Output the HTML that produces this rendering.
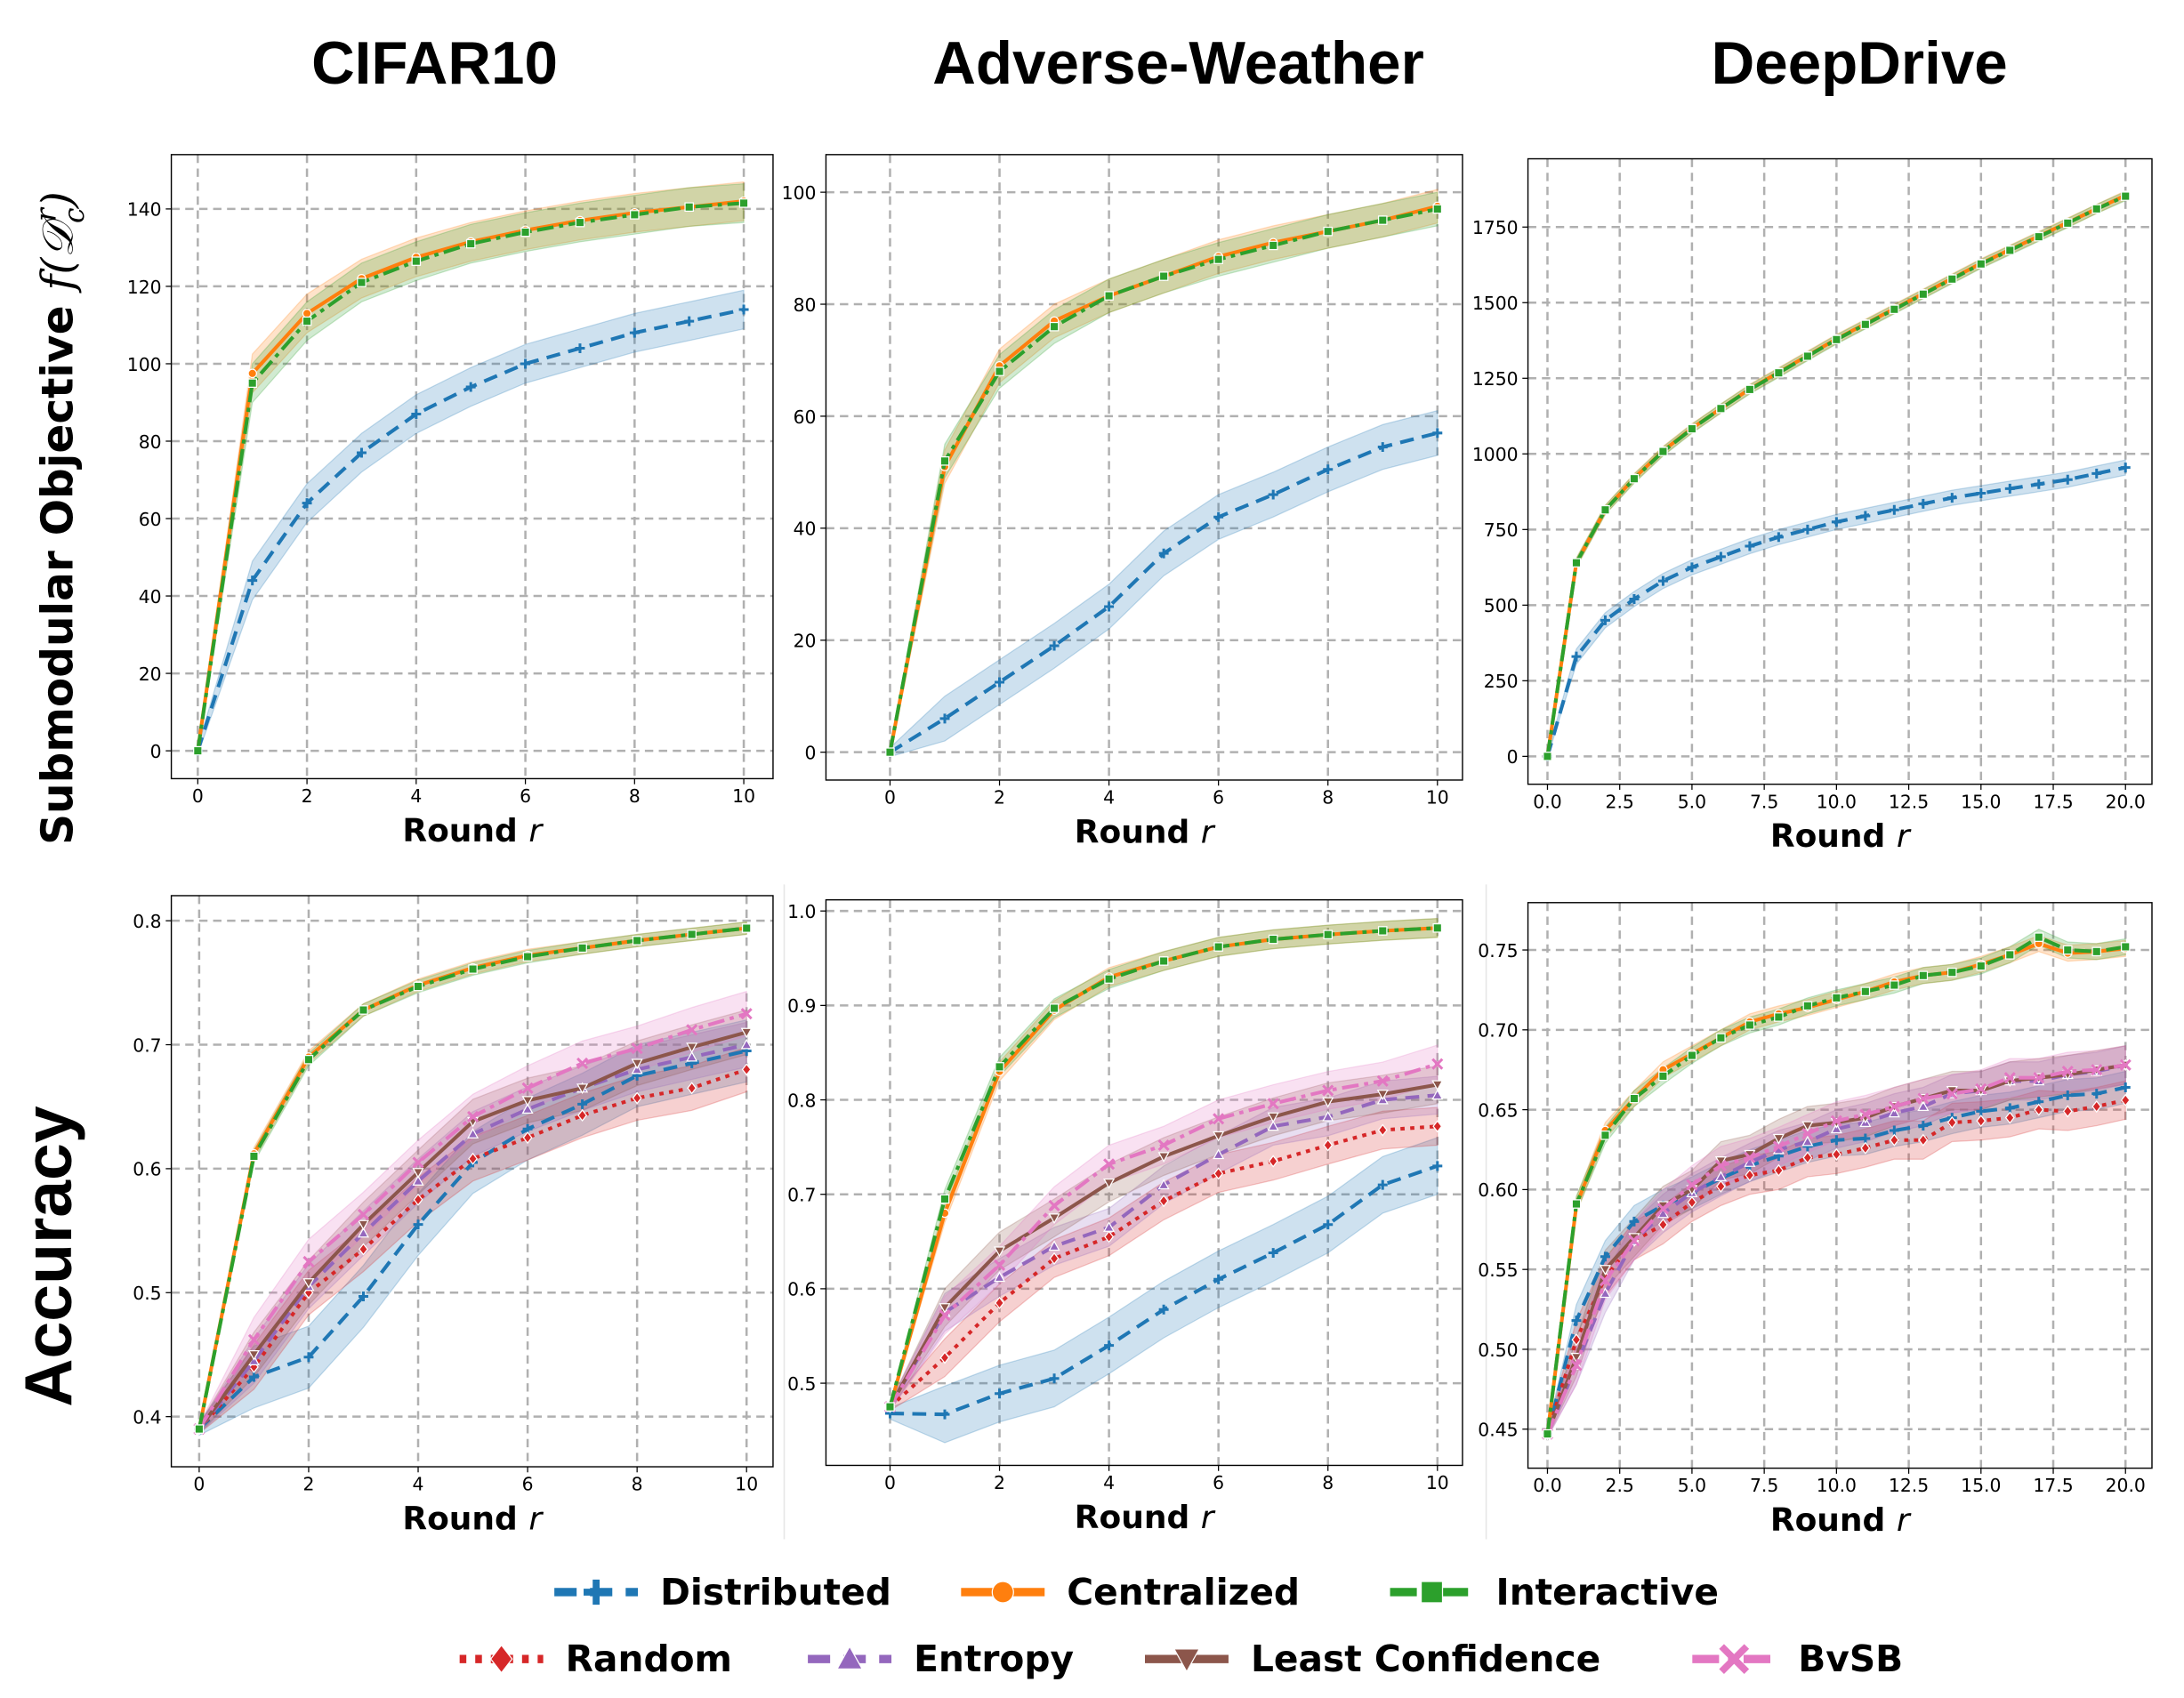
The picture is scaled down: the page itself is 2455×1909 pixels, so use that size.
<!DOCTYPE html>
<html><head><meta charset="utf-8"><style>
html,body{margin:0;padding:0;background:#fff}
svg{display:block}
</style></head><body>
<svg id="fig" xmlns="http://www.w3.org/2000/svg" width="2455" height="1909" viewBox="0 0 1568 1219" preserveAspectRatio="none">
<rect width="1568" height="1219" fill="#fff"/>
<g font-family="'Liberation Sans', Arial, sans-serif" font-weight="bold" font-size="43" text-anchor="middle">
<text x="312" y="60">CIFAR10</text>
<text x="846" y="60">Adverse-Weather</text>
<text x="1335" y="60">DeepDrive</text>
</g>
<text transform="translate(52,372) rotate(-90)" text-anchor="middle" font-family="'DejaVu Sans', sans-serif" font-weight="bold" font-size="31">Submodular Objective <tspan font-family="'DejaVu Serif', serif" font-style="italic" font-weight="normal">f(𝒟</tspan><tspan font-family="'DejaVu Serif', serif" font-style="italic" font-weight="normal" font-size="20" dy="8">c</tspan><tspan font-family="'DejaVu Serif', serif" font-style="italic" font-weight="normal" font-size="20" dy="-20" dx="-10">r</tspan><tspan font-family="'DejaVu Serif', serif" font-style="italic" font-weight="normal" dy="12">)</tspan></text>
<text transform="translate(51,902) rotate(-90)" text-anchor="middle" font-family="'Liberation Sans', sans-serif" font-weight="bold" font-size="48">Accuracy</text>
<line x1="563" y1="635" x2="563" y2="1105" stroke="#e6e6e6" stroke-width="1"/>
<line x1="1067" y1="635" x2="1067" y2="1105" stroke="#e6e6e6" stroke-width="1"/>
<g id="panels"></g>
<g id="legend"></g>
</svg>
<script>
// ---- data ----
const roundsA = [0,1,2,3,4,5,6,7,8,9,10];
const roundsC = [0,1,2,3,4,5,6,7,8,9,10,11,12,13,14,15,16,17,18,19,20];
// CIFAR10 objective
const objCifarCentral = [0,97.5,113,122,127.5,131.5,134.5,137,139,140.5,142];
const objCifarInteractive = [0,95,111,121,126.5,131,134,136.5,138.5,140.5,141.5];
const objCifarDistributed = [0,44,64,77,87,94,100,104,108,111,114];
// Adverse weather objective
const objAwCentral = [0,51,69,77,81.5,85,88.5,91,93,95,97.5];
const objAwInteractive = [0,52,68,76,81.5,85,88,90.5,93,95,97];
const objAwDistributed = [0,6,12.5,19,26,35.5,42,46,50.5,54.5,57];
// DeepDrive objective
const objDdCentral = [0,640,815,920,1010,1085,1150,1215,1270,1325,1380,1430,1480,1530,1580,1630,1675,1720,1765,1810,1855];
const objDdInteractive = [0,640,815,918,1008,1083,1150,1213,1268,1323,1378,1428,1478,1528,1578,1628,1673,1718,1763,1810,1852];
const objDdDistributed = [0,330,450,520,580,625,660,695,725,750,775,795,815,835,855,870,885,900,915,935,955];
// CIFAR10 accuracy
const accCifarCentral = [0.39,0.612,0.69,0.728,0.748,0.762,0.772,0.778,0.784,0.789,0.794];
const accCifarInteractive = [0.39,0.61,0.688,0.728,0.747,0.761,0.771,0.778,0.784,0.789,0.794];
const accCifarDistributed = [0.39,0.432,0.448,0.497,0.555,0.605,0.632,0.652,0.675,0.685,0.695];
const accCifarRandom = [0.39,0.44,0.5,0.535,0.575,0.608,0.625,0.643,0.657,0.665,0.68];
const accCifarEntropy = [0.39,0.445,0.505,0.548,0.59,0.628,0.648,0.665,0.68,0.69,0.70];
const accCifarLC = [0.39,0.45,0.508,0.555,0.597,0.638,0.655,0.665,0.685,0.698,0.71];
const accCifarBvSB = [0.39,0.462,0.525,0.563,0.605,0.642,0.665,0.685,0.697,0.712,0.725];
// Adverse weather accuracy
const accAwCentral = [0.475,0.68,0.83,0.895,0.93,0.947,0.962,0.97,0.975,0.979,0.982];
const accAwInteractive = [0.475,0.695,0.835,0.897,0.928,0.947,0.962,0.97,0.975,0.979,0.982];
const accAwDistributed = [0.468,0.467,0.489,0.505,0.54,0.578,0.61,0.638,0.668,0.71,0.73];
const accAwRandom = [0.475,0.527,0.585,0.632,0.655,0.693,0.722,0.735,0.752,0.768,0.772];
const accAwEntropy = [0.475,0.575,0.612,0.645,0.665,0.71,0.742,0.772,0.782,0.8,0.805];
const accAwLC = [0.475,0.58,0.64,0.675,0.712,0.74,0.762,0.782,0.798,0.806,0.816];
const accAwBvSB = [0.475,0.572,0.625,0.688,0.732,0.752,0.78,0.796,0.81,0.82,0.838];
// DeepDrive accuracy
const accDdCentral = [0.447,0.59,0.637,0.657,0.675,0.685,0.695,0.705,0.71,0.714,0.719,0.724,0.73,0.734,0.736,0.741,0.747,0.754,0.748,0.749,0.751];
const accDdInteractive = [0.447,0.591,0.634,0.657,0.671,0.684,0.695,0.703,0.708,0.715,0.72,0.724,0.728,0.734,0.736,0.74,0.747,0.758,0.75,0.749,0.752];
const accDdDistributed = [0.447,0.518,0.558,0.58,0.59,0.598,0.607,0.615,0.621,0.627,0.631,0.632,0.637,0.64,0.645,0.649,0.651,0.655,0.659,0.66,0.664];
const accDdRandom = [0.447,0.506,0.545,0.568,0.578,0.592,0.602,0.609,0.612,0.62,0.622,0.626,0.631,0.631,0.642,0.643,0.645,0.65,0.649,0.652,0.656];
const accDdEntropy = [0.447,0.49,0.535,0.568,0.585,0.598,0.608,0.617,0.625,0.63,0.638,0.642,0.648,0.652,0.66,0.662,0.668,0.668,0.672,0.674,0.678];
const accDdLC = [0.447,0.495,0.55,0.57,0.59,0.6,0.618,0.622,0.632,0.64,0.642,0.645,0.652,0.657,0.662,0.662,0.668,0.67,0.672,0.675,0.678];
const accDdBvSB = [0.447,0.49,0.543,0.568,0.588,0.603,0.615,0.62,0.627,0.635,0.643,0.647,0.652,0.657,0.66,0.663,0.67,0.67,0.674,0.675,0.678];
// ticks
const xTicksA = [0,2,4,6,8,10];
const xTicksC = [0,2.5,5,7.5,10,12.5,15,17.5,20];
const yTicksObjCifar = [0,20,40,60,80,100,120,140];
const yTicksObjAw = [0,20,40,60,80,100];
const yTicksObjDd = [0,250,500,750,1000,1250,1500,1750];
const yTicksAccCifar = [0.4,0.5,0.6,0.7,0.8];
const yTicksAccAw = [0.5,0.6,0.7,0.8,0.9,1.0];
const yTicksAccDd = [0.45,0.5,0.55,0.6,0.65,0.7,0.75];

const NS='http://www.w3.org/2000/svg';
const STY = {
  Distributed:{c:'#1f77b4',d:'10,6',m:'plus'},
  Centralized:{c:'#ff7f0e',d:'',m:'circle'},
  Interactive:{c:'#2ca02c',d:'12,4,3,4',m:'square'},
  Random:{c:'#d62728',d:'3,4',m:'diamond'},
  Entropy:{c:'#9467bd',d:'10,6',m:'tri'},
  'Least Confidence':{c:'#8c564b',d:'',m:'tridown'},
  BvSB:{c:'#e377c2',d:'12,4,3,4',m:'x'}
};
function el(tag,attrs,parent){const e=document.createElementNS(NS,tag);for(const k in attrs)e.setAttribute(k,attrs[k]);if(parent)parent.appendChild(e);return e;}
function marker(g,type,x,y,c,s){
  let e;
  if(type==='circle'){e=el('circle',{cx:x,cy:y,r:s*0.85,fill:c,stroke:'#fff','stroke-width':0.8},g);}
  else if(type==='square'){e=el('rect',{x:x-s*0.85,y:y-s*0.85,width:s*1.7,height:s*1.7,fill:c,stroke:'#fff','stroke-width':0.8},g);}
  else if(type==='diamond'){e=el('polygon',{points:`${x},${y-s*1.1} ${x+s*0.85},${y} ${x},${y+s*1.1} ${x-s*0.85},${y}`,fill:c,stroke:'#fff','stroke-width':0.8},g);}
  else if(type==='tri'){e=el('polygon',{points:`${x},${y-s} ${x+s},${y+s*0.8} ${x-s},${y+s*0.8}`,fill:c,stroke:'#fff','stroke-width':0.8},g);}
  else if(type==='tridown'){e=el('polygon',{points:`${x},${y+s} ${x+s},${y-s*0.8} ${x-s},${y-s*0.8}`,fill:c,stroke:'#fff','stroke-width':0.8},g);}
  else if(type==='plus'){e=el('path',{d:`M${x-s} ${y}H${x+s}M${x} ${y-s}V${y+s}`,stroke:c,'stroke-width':s*0.55,fill:'none'},g);}
  else {e=el('path',{d:`M${x-s} ${y-s}L${x+s} ${y+s}M${x-s} ${y+s}L${x+s} ${y-s}`,stroke:c,'stroke-width':s*0.55,fill:'none'},g);}
  
  
}
function fmt(v,dec){return v.toFixed(dec);}
function panel(p){
  const g=el('g',{},document.getElementById('panels'));
  
  
  const sx=v=>p.xa[1]+(v-p.xa[0])*(p.xb[1]-p.xa[1])/(p.xb[0]-p.xa[0]);
  const sy=v=>p.ya[1]+(v-p.ya[0])*(p.yb[1]-p.ya[1])/(p.yb[0]-p.ya[0]);
  const clipId='clip'+p.name;
  const cp=el('clipPath',{id:clipId},g);el('rect',{x:p.L,y:p.T,width:p.R-p.L,height:p.B-p.T},cp);
  p.xt.forEach(v=>{const l=el('line',{x1:sx(v),x2:sx(v),y1:p.T,y2:p.B,stroke:'#b0b0b0','stroke-width':1.6,'stroke-dasharray':'6,4'},g);
    el('line',{x1:sx(v),x2:sx(v),y1:p.B,y2:p.B+4,stroke:'#000','stroke-width':0.8},g);
    const t=el('text',{x:sx(v),y:p.B+17,'text-anchor':'middle','font-size':13,'font-family':"'DejaVu Sans',sans-serif"},g);t.textContent=fmt(v,p.xdec);});
  p.yt.forEach(v=>{const l=el('line',{x1:p.L,x2:p.R,y1:sy(v),y2:sy(v),stroke:'#b0b0b0','stroke-width':1.6,'stroke-dasharray':'6,4'},g);
    el('line',{x1:p.L-4,x2:p.L,y1:sy(v),y2:sy(v),stroke:'#000','stroke-width':0.8},g);
    const t=el('text',{x:p.L-7,y:sy(v)+5,'text-anchor':'end','font-size':13,'font-family':"'DejaVu Sans',sans-serif"},g);t.textContent=fmt(v,p.ydec);});
  const sg=el('g',{'clip-path':`url(#${clipId})`},g);
  p.series.forEach(s=>{const st=STY[s.k];const xs=p.x;
    let d='';xs.forEach((x,i)=>{d+=(i?'L':'M')+sx(x)+' '+sy(s.v[i]+s.b*(i?1:0.2));});
    for(let i=xs.length-1;i>=0;i--)d+='L'+sx(xs[i])+' '+sy(s.v[i]-s.b*(i?1:0.2));
    const b=el('path',{d:d+'Z',fill:st.c,'fill-opacity':0.22,stroke:st.c,'stroke-opacity':0.25,'stroke-width':0.8},sg);
    });
  p.series.forEach(s=>{const st=STY[s.k];
    const pts=p.x.map((x,i)=>sx(x)+','+sy(s.v[i])).join(' ');
    const l=el('polyline',{points:pts,fill:'none',stroke:st.c,'stroke-width':2.6,'stroke-dasharray':st.d},sg);
    
    p.x.forEach((x,i)=>marker(sg,st.m,sx(x),sy(s.v[i]),st.c,p.ms));});
  el('rect',{x:p.L,y:p.T,width:p.R-p.L,height:p.B-p.T,fill:'none',stroke:'#000','stroke-width':0.9},g);
  const xl=el('text',{x:(p.L+p.R)/2,y:p.B+45,'text-anchor':'middle','font-size':23,'font-weight':'bold','font-family':"'DejaVu Sans',sans-serif"},g);
  
  xl.innerHTML='Round <tspan font-style="italic" font-weight="normal">r</tspan>';
}
const objSeries=(c,i,d,bc,bd)=>[{k:'Distributed',v:d,b:bd},{k:'Centralized',v:c,b:bc},{k:'Interactive',v:i,b:bc}];
const accSeries=(a,bs)=>[{k:'Distributed',v:a[2],b:bs[0]},{k:'Random',v:a[3],b:bs[1]},{k:'Entropy',v:a[4],b:bs[1]},{k:'Least Confidence',v:a[5],b:bs[1]},{k:'BvSB',v:a[6],b:bs[1]},{k:'Centralized',v:a[0],b:bs[2]},{k:'Interactive',v:a[1],b:bs[2]}];
panel({name:'panel-cifar10-objective',L:123,R:555,T:111,B:559,x:roundsA,xa:[0,142],xb:[10,534],ya:[0,539],yb:[140,150],xt:xTicksA,yt:yTicksObjCifar,xdec:0,ydec:0,ms:3.5,
  series:objSeries(objCifarCentral,objCifarInteractive,objCifarDistributed,5,5)});
panel({name:'panel-adverse-weather-objective',L:593,R:1050,T:111,B:560,x:roundsA,xa:[0,639],xb:[10,1032],ya:[0,540],yb:[100,138],xt:xTicksA,yt:yTicksObjAw,xdec:0,ydec:0,ms:3.5,
  series:objSeries(objAwCentral,objAwInteractive,objAwDistributed,3,4)});
panel({name:'panel-deepdrive-objective',L:1097,R:1545,T:114,B:563,x:roundsC,xa:[0,1111],xb:[20,1526],ya:[0,543],yb:[1750,163],xt:xTicksC,yt:yTicksObjDd,xdec:1,ydec:0,ms:3.5,
  series:objSeries(objDdCentral,objDdInteractive,objDdDistributed,15,25)});
panel({name:'panel-cifar10-accuracy',L:123,R:555,T:643,B:1053,x:roundsA,xa:[0,143],xb:[10,536],ya:[0.4,1017],yb:[0.8,661],xt:xTicksA,yt:yTicksAccCifar,xdec:0,ydec:1,ms:3.5,
  series:accSeries([accCifarCentral,accCifarInteractive,accCifarDistributed,accCifarRandom,accCifarEntropy,accCifarLC,accCifarBvSB],[0.025,0.018,0.005])});
panel({name:'panel-adverse-weather-accuracy',L:593,R:1050,T:646,B:1052,x:roundsA,xa:[0,639],xb:[10,1032],ya:[0.5,993],yb:[1.0,654],xt:xTicksA,yt:yTicksAccAw,xdec:0,ydec:1,ms:3.5,
  series:accSeries([accAwCentral,accAwInteractive,accAwDistributed,accAwRandom,accAwEntropy,accAwLC,accAwBvSB],[0.03,0.02,0.01])});
panel({name:'panel-deepdrive-accuracy',L:1097,R:1545,T:648,B:1054,x:roundsC,xa:[0,1111],xb:[20,1526],ya:[0.45,1026],yb:[0.75,682],xt:xTicksC,yt:yTicksAccDd,xdec:1,ydec:2,ms:3.5,
  series:accSeries([accDdCentral,accDdInteractive,accDdDistributed,accDdRandom,accDdEntropy,accDdLC,accDdBvSB],[0.01,0.012,0.005])});
// legend
const legendNames=['Distributed','Centralized','Interactive','Random','Entropy','Least Confidence','BvSB'];
const legendX=[398,690,998,330,580,822,1215];
const legendY=[1143,1143,1143,1191,1191,1191,1191];
const lg=document.getElementById('legend');
legendNames.forEach((n,i)=>{const st=STY[n];const x=legendX[i],y=legendY[i];
  const g=el('g',{},lg);
  
  
  el('line',{x1:x,x2:x+60,y1:y,y2:y,stroke:st.c,'stroke-width':6,'stroke-dasharray':st.d?st.d.split(',').map(v=>v*1.6).join(','):''},g);
  marker(g,st.m,x+30,y,st.c,9);
  const t=el('text',{x:x+76,y:y+9,'font-size':26,'font-weight':'bold','font-family':"'DejaVu Sans',sans-serif"},g);t.textContent=n;});
</script>
</body></html>
